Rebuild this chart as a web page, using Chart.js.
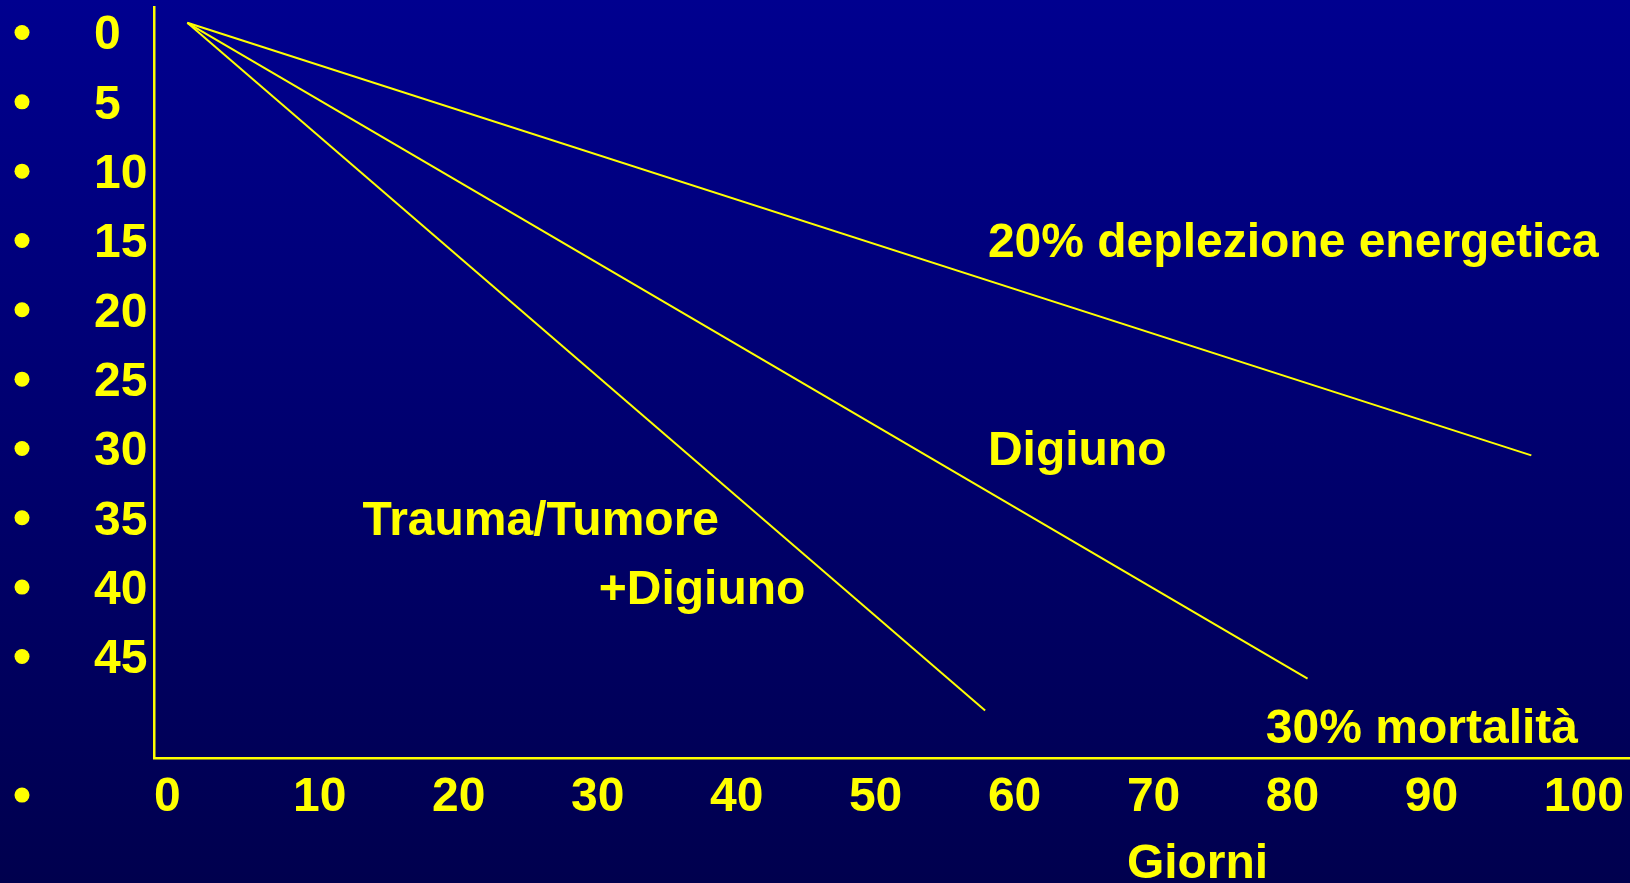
<!DOCTYPE html>
<html>
<head>
<meta charset="utf-8">
<script src="https://cdn.jsdelivr.net/npm/chart.js@4/dist/chart.umd.min.js"></script>
<style>
  html, body { margin: 0; padding: 0; background: #000060; }
  #wrap { width: 1630px; height: 883px; }
  canvas { display: block; }
</style>
</head>
<body>
<div id="wrap"><canvas id="c" width="1630" height="883"></canvas></div>
<script>
// Tick labels of both axes
const dayTicks = [0, 10, 20, 30, 40, 50, 60, 70, 80, 90, 100];
const lossTicks = [0, 5, 10, 15, 20, 25, 30, 35, 40, 45];

// Each course: start and end (giorni, perdita)
const seriesNames = ['20% deplezione energetica', 'Digiuno', 'Trauma/Tumore +Digiuno'];
const energyDays = [2.4, 99.1];
const energyLoss = [-0.7, 30.5];
const fastingDays = [2.4, 83.0];
const fastingLoss = [-0.7, 46.6];
const traumaDays = [2.4, 59.8];
const traumaLoss = [-0.7, 48.9];

// Text placed on the plot
const noteTexts = ['20% deplezione energetica', 'Digiuno', 'Trauma/Tumore', '+Digiuno', '30% mortalità', 'Giorni'];
const noteAt = [[60, 15], [60, 30], [15, 35], [32, 40], [80, 50], [70, 59.75]];

const YELLOW = '#FFFF00';
const FONT = '"Liberation Sans", Arial, sans-serif';
const TEXT_DROP = 3.5; // glyph centring for middle-baseline text

function toPoints(xs, ys) {
  return xs.map((x, i) => ({ x: x, y: ys[i] }));
}

const slideBackground = {
  id: 'slideBackground',
  beforeDraw(chart) {
    const { ctx, width, height } = chart;
    const g = ctx.createLinearGradient(0, 0, 0, height);
    g.addColorStop(0, '#00008F');
    g.addColorStop(1, '#00004E');
    ctx.save();
    ctx.fillStyle = g;
    ctx.fillRect(0, 0, width, height);
    ctx.restore();
  }
};

const bulletsAndNotes = {
  id: 'bulletsAndNotes',
  afterDraw(chart) {
    const { ctx } = chart;
    const xs = chart.scales.x, ys = chart.scales.y;
    ctx.save();
    ctx.fillStyle = YELLOW;
    // bullets in front of each row of the list, plus the axis row
    const rows = lossTicks.concat([55]);
    rows.forEach(v => {
      ctx.beginPath();
      ctx.arc(22, ys.getPixelForValue(v), 7.5, 0, Math.PI * 2);
      ctx.fill();
    });
    ctx.font = 'bold 48px ' + FONT;
    ctx.textAlign = 'left';
    ctx.textBaseline = 'middle';
    noteTexts.forEach((t, i) => {
      ctx.fillText(t, xs.getPixelForValue(noteAt[i][0]), ys.getPixelForValue(noteAt[i][1]) + TEXT_DROP);
    });
    ctx.restore();
  }
};

const lineStyle = {
  showLine: true,
  borderColor: YELLOW,
  backgroundColor: YELLOW,
  borderWidth: 2,
  pointRadius: 0,
  fill: false,
  tension: 0
};

new Chart(document.getElementById('c'), {
  type: 'scatter',
  data: {
    datasets: [
      Object.assign({ label: seriesNames[0], data: toPoints(energyDays, energyLoss) }, lineStyle),
      Object.assign({ label: seriesNames[1], data: toPoints(fastingDays, fastingLoss) }, lineStyle),
      Object.assign({ label: seriesNames[2], data: toPoints(traumaDays, traumaLoss) }, lineStyle)
    ]
  },
  options: {
    responsive: false,
    animation: false,
    devicePixelRatio: 1,
    layout: { padding: { left: 94, top: 7, right: 0, bottom: 0 } },
    plugins: { legend: { display: false }, tooltip: { enabled: false }, title: { display: false } },
    scales: {
      x: {
        type: 'linear',
        position: 'bottom',
        min: 0,
        max: 106.2,
        grid: { display: false, drawTicks: false },
        border: { display: true, color: YELLOW, width: 2.5 },
        afterBuildTicks(scale) { scale.ticks = dayTicks.map(v => ({ value: v })); },
        afterFit(scale) {
          scale.height = 124.5;
          scale.paddingLeft = 0;
          scale.paddingRight = 0;
        },
        ticks: {
          color: YELLOW,
          align: 'start',
          padding: 10,
          autoSkip: false,
          maxRotation: 0,
          font: { family: FONT, size: 48, weight: 'bold', lineHeight: 1.2 }
        }
      },
      y: {
        type: 'linear',
        position: 'left',
        reverse: true,
        min: -1.84,
        max: 52.36,
        grid: { display: false, drawTicks: false },
        border: { display: true, color: YELLOW, width: 2.5 },
        afterBuildTicks(scale) { scale.ticks = lossTicks.map(v => ({ value: v })); },
        afterFit(scale) {
          scale.width = 60;
          scale.paddingTop = 0;
          scale.paddingBottom = 0;
        },
        ticks: {
          color: YELLOW,
          crossAlign: 'far',
          padding: 0,
          labelOffset: TEXT_DROP,
          autoSkip: false,
          font: { family: FONT, size: 48, weight: 'bold', lineHeight: 1.2 }
        }
      }
    }
  },
  plugins: [slideBackground, bulletsAndNotes]
});
</script>
</body>
</html>
